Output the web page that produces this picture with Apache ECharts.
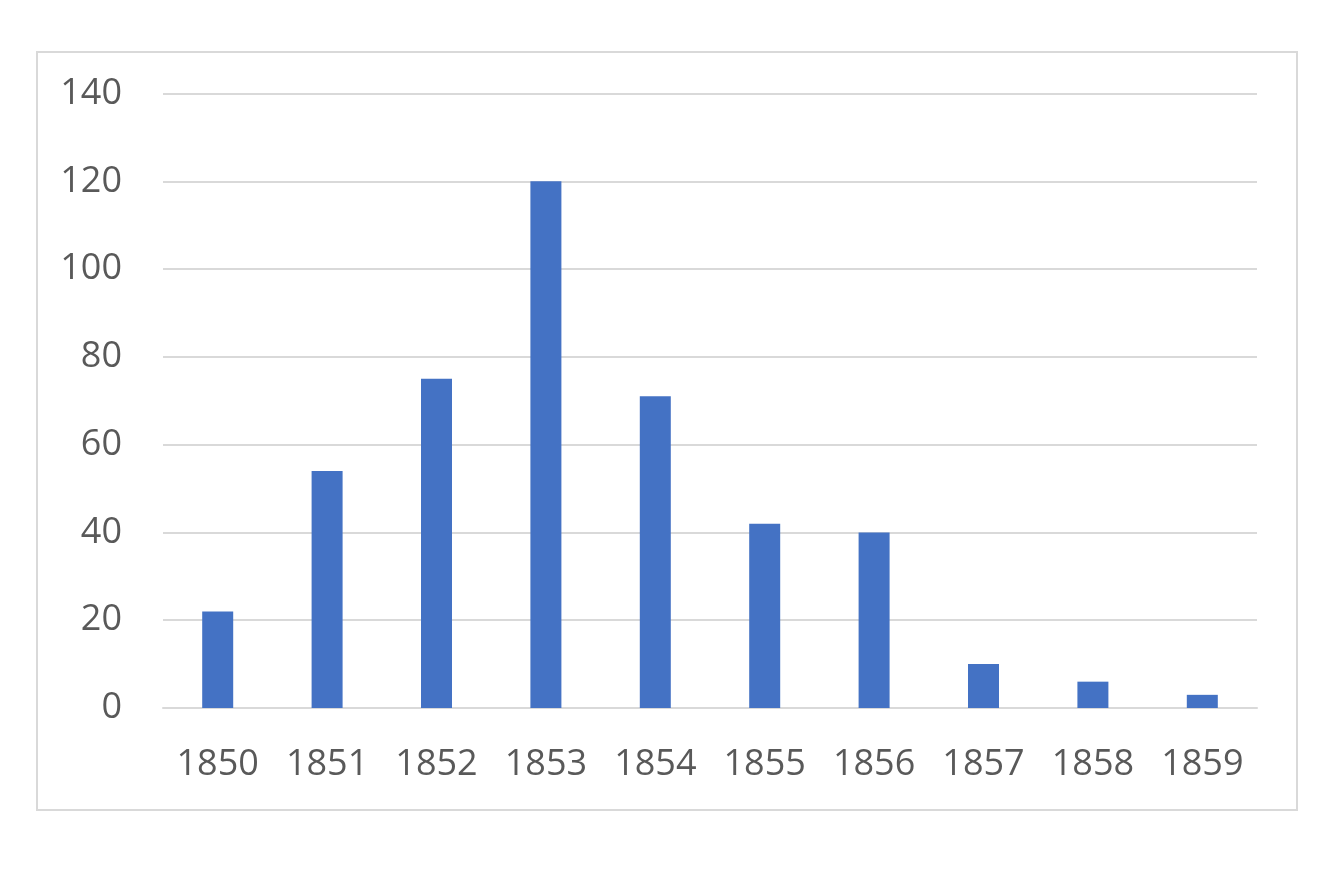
<!DOCTYPE html>
<html>
<head>
<meta charset="utf-8">
<script src="https://cdn.jsdelivr.net/npm/echarts@6/dist/echarts.min.js"></script>
<style>
html,body{margin:0;padding:0;background:#fff;}
#c{width:1326px;height:870px;}
</style>
</head>
<body>
<div id="c"></div>
<script>
const years = ['1850','1851','1852','1853','1854','1855','1856','1857','1858','1859'];
const values = [22, 54, 75, 120, 71, 42, 40, 10, 6, 3];
const yTicks = [0, 20, 40, 60, 80, 100, 120, 140];

const chart = echarts.init(document.getElementById('c'), null, {renderer: 'canvas'});
const font = '"Open Sans", "Liberation Sans", sans-serif';
chart.setOption({
  backgroundColor: '#ffffff',
  animation: false,
  graphic: [{
    type: 'rect',
    shape: {x: 37, y: 52, width: 1260, height: 758},
    style: {fill: 'none', stroke: '#d9d9d9', lineWidth: 2},
    z: -1
  }],
  grid: {left: 163, right: 69, top: 93.5, bottom: 162, containLabel: false},
  xAxis: {
    type: 'category',
    data: years,
    axisLine: {show: true, lineStyle: {color: '#d9d9d9', width: 2}},
    axisTick: {show: false},
    axisLabel: {color: '#595959', fontSize: 36, fontFamily: font, margin: 39}
  },
  yAxis: {
    type: 'value',
    min: yTicks[0],
    max: yTicks[yTicks.length - 1],
    interval: 20,
    axisLine: {show: false},
    axisTick: {show: false},
    splitLine: {lineStyle: {color: '#d9d9d9', width: 2}},
    axisLabel: {color: '#595959', fontSize: 36, fontFamily: font, margin: 41}
  },
  series: [{
    type: 'bar',
    data: values,
    barWidth: 31,
    itemStyle: {color: '#4472c4'}
  }]
});
</script>
</body>
</html>
